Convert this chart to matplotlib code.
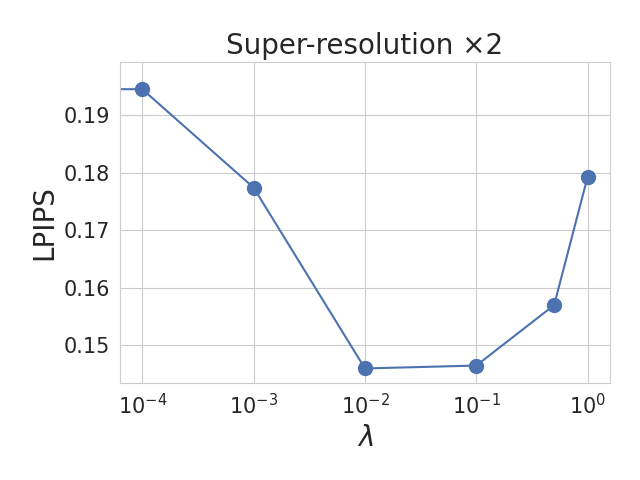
import matplotlib
matplotlib.use("Agg")
import matplotlib.pyplot as plt
import seaborn as sns

sns.set_style("whitegrid")

lambdas = [0, 1e-4, 1e-3, 1e-2, 1e-1, 0.5, 1.0]
lpips = [0.1967, 0.1945, 0.1774, 0.1460, 0.1465, 0.1570, 0.1793]

fig, ax = plt.subplots(figsize=(6.4, 4.8), dpi=100)
ax.plot(lambdas, lpips, marker="o", markersize=10, color="#4C72B0", linewidth=1.5)
ax.set_xscale("log")
ax.set_title("Super-resolution \u00d72", fontsize=20)
ax.set_xlabel(r"$\lambda$", fontsize=20)
ax.set_ylabel("LPIPS", fontsize=20)
ax.tick_params(labelsize=15)
fig.subplots_adjust(left=0.1875, right=0.953, top=0.871, bottom=0.202)
fig.savefig("out.png")
